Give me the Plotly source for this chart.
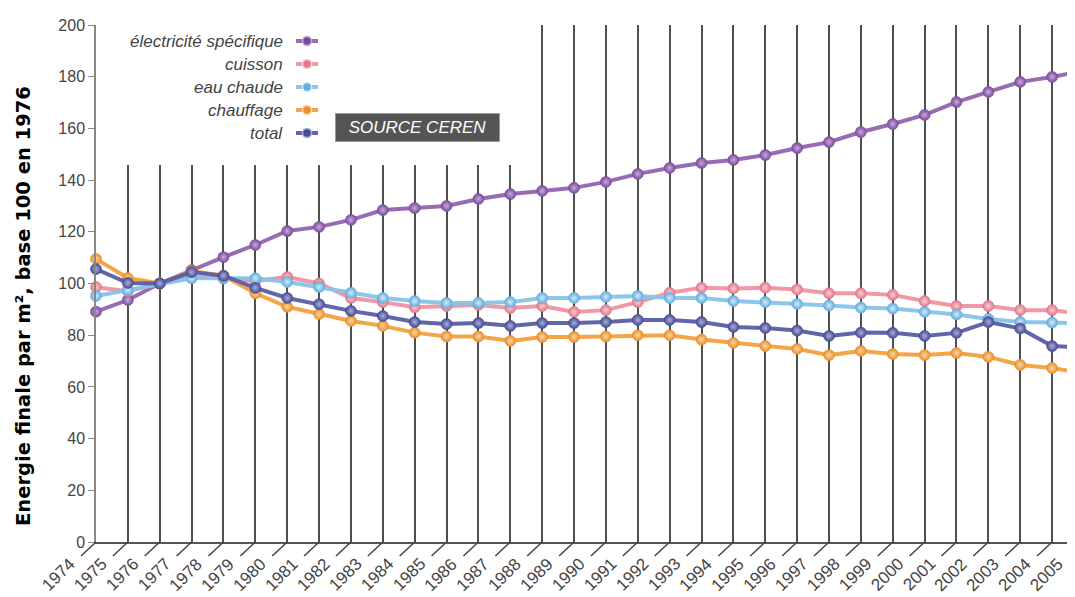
import plotly.graph_objects as go

# données (base 100 en 1976)
annees = list(range(1974, 2006))

elec_specifique = [89.1, 93.6, 100, 105.2, 110.2, 114.9, 120.3, 121.9, 124.6, 128.4,
                   129.2, 130.0, 132.7, 134.6, 135.8, 137.0, 139.3, 142.4, 144.7, 146.6,
                   147.8, 149.7, 152.4, 154.7, 158.6, 161.7, 165.2, 170.2, 174.1, 178.0,
                   179.9, 182.3]
cuisson = [98.6, 97.0, 100, 102.5, 102.0, 101.0, 102.5, 100.0, 94.4, 92.8,
           90.8, 91.3, 91.7, 90.5, 91.3, 89.0, 89.7, 92.8, 96.4, 98.4,
           98.1, 98.4, 97.7, 96.2, 96.2, 95.6, 93.2, 91.3, 91.3, 89.7,
           89.7, 88.2]
eau_chaude = [95.2, 97.5, 100, 102.0, 102.0, 102.0, 100.6, 98.6, 96.4, 94.4,
              93.2, 92.5, 92.5, 92.8, 94.4, 94.4, 94.8, 95.2, 94.4, 94.4,
              93.2, 92.8, 92.1, 91.5, 90.7, 90.3, 89.0, 88.0, 86.3, 85.1,
              84.9, 84.5]
chauffage = [109.5, 102.1, 100, 104.8, 103.0, 96.2, 91.0, 88.2, 85.5, 83.6,
             81.0, 79.5, 79.5, 77.8, 79.3, 79.3, 79.5, 80.0, 80.0, 78.3,
             77.0, 75.8, 74.7, 72.3, 73.9, 72.7, 72.3, 73.1, 71.6, 68.5,
             67.3, 65.2]
total = [105.6, 100.2, 100, 104.4, 103.0, 98.3, 94.4, 92.0, 89.4, 87.4,
         85.1, 84.3, 84.7, 83.6, 84.7, 84.7, 85.1, 85.9, 85.9, 85.1,
         83.2, 82.8, 81.8, 79.7, 81.0, 80.9, 79.7, 80.9, 85.1, 82.6,
         75.8, 75.3]

y_ticks = list(range(0, 201, 20))

# (nom, valeurs, couleur de ligne, couleur de marqueur, reflet)
series = [
    ("électricité spécifique", elec_specifique, "rgba(140,92,172,0.9)", "#7a4b9a", "#c9a9de"),
    ("cuisson", cuisson, "rgba(240,140,156,0.9)", "#e2788a", "#f9cdd4"),
    ("eau chaude", eau_chaude, "rgba(134,196,234,0.95)", "#62aedd", "#d2ecfa"),
    ("chauffage", chauffage, "rgba(243,160,62,0.95)", "#e8902a", "#fbd6a4"),
    ("total", total, "rgba(88,94,166,0.95)", "#474c94", "#a9addb"),
]

# la page ajoute une marge de 8 px autour de la figure
OFF = 8
VW, VH = 1075, 597
W, H = VW - OFF, VH - OFF
# zone de tracé en pixels de la fenêtre
PLOT_L, PLOT_R, PLOT_T, PLOT_B = 96, 1075, 25, 542
PX_PAR_AN = 31.87
X0 = annees[0]
X1 = X0 + (PLOT_R - PLOT_L) / PX_PAR_AN


def px_x(px):
    return (px - PLOT_L) / (PLOT_R - PLOT_L)


def px_y(py):
    return (PLOT_B - py) / (PLOT_B - PLOT_T)


def an_paper(a):
    return (a - X0) / (X1 - X0)


fig = go.Figure()

for nom, vals, c_ligne, c_marq, c_reflet in series:
    fig.add_trace(go.Scatter(
        x=annees, y=vals, name=nom, mode="lines+markers",
        line=dict(color=c_ligne, width=4),
        marker=dict(size=11, color=c_marq,
                    gradient=dict(type="radial", color=c_reflet),
                    line=dict(width=0.6, color=c_marq)),
        cliponaxis=False, showlegend=False,
    ))

shapes = []
# fond blanc de la légende (cache le quadrillage)
shapes.append(dict(type="rect", xref="x", yref="y", x0=X0 + 0.03, x1=1987.5,
                   y0=145.8, y1=200, fillcolor="white", line_width=0,
                   layer="between"))

annotations = []
# graduations obliques et étiquettes des années
for a in annees:
    shapes.append(dict(type="line", xref="paper", yref="paper",
                       xsizemode="pixel", xanchor=an_paper(a), x0=0, x1=-15,
                       ysizemode="pixel", yanchor=0, y0=0, y1=-14,
                       line=dict(color="#444", width=1.5)))
    annotations.append(dict(xref="paper", yref="paper", x=an_paper(a), y=0,
                            xanchor="right", yanchor="top", xshift=-14, yshift=-10,
                            showarrow=False, textangle=-45, text=str(a),
                            font=dict(family="Liberation Sans, Arial", size=17, color="#444")))

# légende personnalisée : texte à gauche, symbole à droite
leg_rows = [41, 64, 87, 110, 133]
for (nom, vals, c_ligne, c_marq, c_reflet), py in zip(series, leg_rows):
    annotations.append(dict(xref="paper", yref="paper", x=px_x(285), y=px_y(py),
                            xanchor="right", yanchor="middle", showarrow=False,
                            text=f"<i>{nom}</i>",
                            font=dict(family="Liberation Sans, Arial", size=17, color="#444")))
    shapes.append(dict(type="line", xref="paper", yref="paper",
                       x0=px_x(296), x1=px_x(318), y0=px_y(py), y1=px_y(py),
                       line=dict(color=c_ligne, width=4)))
    shapes.append(dict(type="circle", xref="paper", yref="paper",
                       x0=px_x(302.5), x1=px_x(311.5), y0=px_y(py - 4.5), y1=px_y(py + 4.5),
                       fillcolor=c_marq, line=dict(color=c_reflet, width=1.5)))

annotations.append(dict(xref="paper", yref="paper", x=px_x(417.5), y=px_y(127.5),
                        xanchor="center", yanchor="middle", showarrow=False,
                        text="<i>SOURCE CEREN</i>", width=159, height=23, borderpad=2,
                        bgcolor="#555555", bordercolor="#999", borderwidth=1,
                        font=dict(family="Liberation Sans, Arial", size=17, color="white")))

# titre de l'axe y
annotations.append(dict(xref="paper", yref="paper", x=px_x(23), y=px_y(306),
                        xanchor="center", yanchor="middle", showarrow=False,
                        textangle=-90, text="<b>Energie finale par m², base 100 en 1976</b>",
                        font=dict(family="DejaVu Sans, Verdana", size=19.5, color="black")))

fig.update_layout(
    width=W, height=H,
    margin=dict(l=PLOT_L - OFF, r=W - (PLOT_R - OFF), t=PLOT_T - OFF, b=H - (PLOT_B - OFF),
                autoexpand=False),
    paper_bgcolor="white", plot_bgcolor="white",
    shapes=shapes, annotations=annotations,
    showlegend=False,
)

fig.update_xaxes(
    range=[X0, X1], tickvals=annees, showticklabels=False,
    ticks="", showgrid=True, gridcolor="#505050", gridwidth=2,
    showline=True, linecolor="#555", linewidth=2, zeroline=False,
)
fig.update_yaxes(
    range=[0, 200], tickvals=y_ticks, ticks="outside", ticklen=6, tickcolor="#888",
    showgrid=False, showline=True, linecolor="#888", linewidth=1.5, zeroline=False,
    tickfont=dict(family="Liberation Sans, Arial", size=16, color="#444"),
)

fig.write_html("out.html")
